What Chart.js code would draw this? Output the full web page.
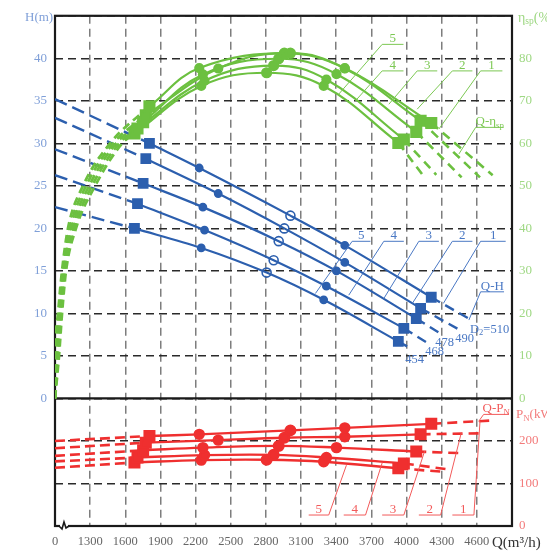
<!DOCTYPE html>
<html><head><meta charset="utf-8">
<script src="https://cdn.jsdelivr.net/npm/chart.js@4/dist/chart.umd.min.js"></script>
<style>html,body{margin:0;padding:0;background:#fff;}#wrap{width:547px;height:552px;position:relative;}canvas{display:block;}</style>
</head><body><div id="wrap"><canvas id="c" width="547" height="552"></canvas></div>
<script>
// ================= DATA =================
const curveIds  = ['1', '2', '3', '4', '5'];
const diameters = ['D_2_=510', '490', '478', '468', '454'];

// flow of the five marked points on each curve (square, dot, circle, dot, square), m3/h
const qMarks = [
  [1806, 2231, 3009, 3473, 4211],
  [1775, 2393, 2957, 3473, 4120],
  [1752, 2262, 2909, 3402, 4083],
  [1704, 2276, 2866, 3316, 3977],
  [1678, 2248, 2806, 3293, 3930]
];
// head H (m) at those points
const headMarks = [
  [30.0, 27.1, 21.5, 18.0, 11.9],
  [28.2, 24.1, 20.0, 16.0, 10.6],
  [25.3, 22.5, 18.5, 15.0, 9.4],
  [22.9, 19.8, 16.25, 13.2, 8.25],
  [20.0, 17.7, 14.8, 11.6, 6.7]
];
const headStart = [35.2, 33.0, 29.3, 26.25, 22.5];   // at the start of the (broken) Q axis
const headEndQ  = [4556, 4456, 4305, 4205, 4034];
const headEndH  = [9.2, 8.05, 7.5, 6.3, 5.9];

// efficiency ηsp (%) at the marked points
const effMarks = [
  [68.7, 77.7, 81.2, 77.7, 64.8],
  [66.6, 77.6, 81.2, 77.6, 65.3],
  [65.0, 76.2, 79.9, 76.3, 62.7],
  [63.5, 74.7, 78.3, 75.0, 60.9],
  [62.3, 73.5, 76.6, 73.5, 60.1]
];
// dashed rising part of the efficiency curves
const effRiseE = [0, 10, 20, 30, 40, 50, 60];
const effRiseQ = [
  [1000, 1004, 1026, 1060, 1111, 1239, 1470],
  [1000, 1009, 1034, 1068, 1128, 1265, 1496],
  [1000, 1017, 1043, 1077, 1145, 1291, 1521],
  [1000, 1026, 1051, 1085, 1162, 1316, 1547],
  [1000, 1034, 1060, 1094, 1179, 1342, 1573]
];
const effEndQ = [4735, 4627, 4470, 4254, 4154];
const effEndE = [52.5, 52.0, 52.0, 52.6, 52.0];

// shaft power PN (kW) at the marked points
const powMarks = [
  [211.6, 215.6, 224.9, 230.9, 240.3],
  [196.0, 202.0, 207.7, 210.0, 215.6],
  [178.0, 184.4, 188.4, 184.4, 175.1],
  [161.0, 166.7, 167.4, 161.2, 147.2],
  [149.5, 155.0, 155.8, 151.2, 135.6]
];
const powStart = [200, 183, 165, 152, 137];
const powEndQ  = [4718, 4632, 4461, 4333, 4290];
const powEndP  = [248, 218, 171.4, 134, 128];

// axis ranges / ticks
const qMin = 1000, qMax = 4900, qStep = 300;   // Q axis is broken: its first tick is labelled 0
const hMin = -15, hMax = 45, hStep = 5;        // head axis (lower part holds the power panel)
const eMin = -30, eMax = 90, eStep = 10;       // efficiency axis
const pMin = 0, pMax = 1200;                   // power axis (0..300 visible in lower panel)
const powTickLabels = {'-30': '0', '-20': '100', '-10': '200'};

// ================= STYLE =================
const FONT = "'Liberation Serif','Times New Roman',serif";
const BLUE = '#2c5fae', BLUE_T = '#7f9fd8', BLUE_L = '#4a78c4';
const GREEN = '#6cc040', GREEN_T = '#9fd884', GREEN_L = '#7cc853';
const RED = '#ef2f2f', RED_T = '#f37b7b', RED_L = '#f25a5a';

const pts = (qs, ys) => qs.map((q, j) => ({x: q, y: ys[j]}));
const datasets = [];
const markStyle = ['rect', 'circle', 'circle', 'circle', 'rect'];

for (let i = 0; i < 5; i++) {
  const q = qMarks[i], n = q.length - 1;
  // ---- efficiency (green)
  datasets.push({yAxisID: 'yE', order: 0, data: pts(q, effMarks[i]), borderColor: GREEN, borderWidth: 2.2,
    tension: 0.4, pointStyle: markStyle, pointRadius: [7, 4, 4.5, 4, 7],
    pointBackgroundColor: GREEN, pointBorderColor: GREEN});
  datasets.push({yAxisID: 'yE', order: 0, data: pts(effRiseQ[i].concat([q[0]]), effRiseE.concat([effMarks[i][0]])),
    borderColor: GREEN, borderWidth: 2.8, borderDash: [8, 5], cubicInterpolationMode: 'monotone', pointRadius: 0});
  datasets.push({yAxisID: 'yE', order: 0, data: [{x: q[n], y: effMarks[i][n]}, {x: effEndQ[i], y: effEndE[i]}],
    borderColor: GREEN, borderWidth: 2.6, borderDash: [9, 6], pointRadius: 0});
  // ---- head (blue)
  datasets.push({yAxisID: 'yH', order: 1, data: pts(q, headMarks[i]), borderColor: BLUE, borderWidth: 2.2,
    cubicInterpolationMode: 'monotone', pointStyle: markStyle, pointRadius: [6.5, 3.6, 4.5, 3.6, 6.5],
    pointBackgroundColor: [BLUE, BLUE, 'rgba(0,0,0,0)', BLUE, BLUE], pointBorderColor: BLUE, pointBorderWidth: 1.6});
  datasets.push({yAxisID: 'yH', order: 1, data: [{x: qMin, y: headStart[i]}, {x: q[0], y: headMarks[i][0]}],
    borderColor: BLUE, borderWidth: 2.4, borderDash: [13, 6], pointRadius: 0});
  datasets.push({yAxisID: 'yH', order: 1, data: [{x: q[n], y: headMarks[i][n]}, {x: headEndQ[i], y: headEndH[i]}],
    borderColor: BLUE, borderWidth: 2.4, borderDash: [10, 6], pointRadius: 0});
  // ---- power (red)
  datasets.push({yAxisID: 'yP', order: 2, data: pts(q, powMarks[i]), borderColor: RED, borderWidth: 2.4,
    tension: 0.4, pointStyle: markStyle, pointRadius: [6.8, 4.5, 4.8, 4.5, 6.8],
    pointBackgroundColor: RED, pointBorderColor: RED});
  datasets.push({yAxisID: 'yP', order: 2, data: [{x: qMin, y: powStart[i]}, {x: q[0], y: powMarks[i][0]}],
    borderColor: RED, borderWidth: 2.6, borderDash: [10, 5], pointRadius: 0});
  datasets.push({yAxisID: 'yP', order: 2, data: [{x: q[n], y: powMarks[i][n]}, {x: powEndQ[i], y: powEndP[i]}],
    borderColor: RED, borderWidth: 2.6, borderDash: [10, 6], pointRadius: 0});
}

// leader lines with labels, in (Q, H) coordinates of the chart
const leaders = [
  // efficiency labels
  {c: GREEN_L, t: '5', p: [[3421, 35.78], [3792, 41.64], [3974, 41.64]]},
  {c: GREEN_L, t: '4', p: [[3564, 35.0], [3792, 38.52], [3974, 38.52]]},
  {c: GREEN_L, t: '3', p: [[3849, 34.6], [4091, 38.52], [4262, 38.52]]},
  {c: GREEN_L, t: '2', p: [[4091, 34.02], [4391, 38.52], [4562, 38.52]]},
  {c: GREEN_L, t: '1', p: [[4276, 31.68], [4632, 38.52], [4818, 38.52]]},
  {c: GREEN_L, t: 'Q-η_sp', p: [[4447, 28.75], [4590, 31.88], [4829, 31.88]]},
  // head labels
  {c: BLUE_L, t: '5', p: [[3222, 12.34], [3536, 18.48], [3692, 18.48]]},
  {c: BLUE_L, t: '4', p: [[3507, 12.15], [3806, 18.48], [3977, 18.48]]},
  {c: BLUE_L, t: '3', p: [[3806, 11.75], [4105, 18.48], [4276, 18.48]]},
  {c: BLUE_L, t: '2', p: [[4049, 11.17], [4391, 18.48], [4562, 18.48]]},
  {c: BLUE_L, t: '1', p: [[4314, 11.17], [4632, 18.48], [4846, 18.48]]},
  {c: BLUE_L, t: 'Q-H', p: [[4532, 9.22], [4632, 12.54], [4832, 12.54]]},
  // power labels
  {c: RED_L, t: '5', p: [[3487, -7.85], [3336, -13.71], [3165, -13.71]]},
  {c: RED_L, t: '4', p: [[3792, -7.58], [3650, -13.71], [3464, -13.71]]},
  {c: RED_L, t: '3', p: [[4154, -6.21], [3977, -13.71], [3792, -13.71]]},
  {c: RED_L, t: '2', p: [[4468, -4.0], [4291, -13.71], [4105, -13.71]]},
  {c: RED_L, t: '1', p: [[4627, -2.7], [4575, -13.71], [4391, -13.71]]},
  {c: RED_L, t: 'Q-P_N', p: [[4615, -2.7], [4658, -1.875], [4872, -1.875]]}
];
const diamPos = [[4709, 8.2], [4496, 7.2], [4325, 6.68], [4239, 5.6], [4068, 4.7]];

function richText(ctx, str, x, y, align, size, color) {
  const parts = str.split('_');
  const sz = i => (i % 2 ? size * 0.68 : size);
  const widths = parts.map((p, i) => { ctx.font = sz(i) + 'px ' + FONT; return ctx.measureText(p).width; });
  const w = widths.reduce((a, b) => a + b, 0);
  let cx = align === 'center' ? x - w / 2 : (align === 'right' ? x - w : x);
  ctx.fillStyle = color; ctx.textAlign = 'left'; ctx.textBaseline = 'alphabetic';
  parts.forEach((p, i) => { ctx.font = sz(i) + 'px ' + FONT; ctx.fillText(p, cx, y + (i % 2 ? size * 0.18 : 0)); cx += widths[i]; });
}

const decor = {
  id: 'decor',
  beforeDatasetsDraw(chart) {
    const {ctx, chartArea: a, scales} = chart;
    ctx.save();
    ctx.strokeStyle = '#1a1a1a'; ctx.lineWidth = 2.2; ctx.setLineDash([]);
    ctx.strokeRect(a.left, a.top, a.right - a.left, a.bottom - a.top);
    const y0 = scales.yH.getPixelForValue(0);
    ctx.beginPath(); ctx.moveTo(a.left, y0); ctx.lineTo(a.right, y0); ctx.stroke();
    // axis break mark
    const bx = a.left + 5, by = a.bottom;
    ctx.fillStyle = '#fff'; ctx.fillRect(bx, by - 3, 8, 6);
    ctx.lineWidth = 1.6;
    ctx.beginPath(); ctx.moveTo(bx - 1, by); ctx.lineTo(bx + 2, by + 3); ctx.lineTo(bx + 4, by - 4);
    ctx.lineTo(bx + 6, by + 2); ctx.lineTo(bx + 9, by); ctx.stroke();
    ctx.restore();
  },
  afterDatasetsDraw(chart) {
    const {ctx, chartArea: a, scales} = chart;
    const X = v => scales.x.getPixelForValue(v), Y = v => scales.yH.getPixelForValue(v);
    ctx.save();
    ctx.setLineDash([]);
    leaders.forEach(l => {
      ctx.strokeStyle = l.c; ctx.lineWidth = 1;
      ctx.beginPath();
      l.p.forEach((p, k) => { const px = X(p[0]), py = Y(p[1]); if (k) ctx.lineTo(px, py); else ctx.moveTo(px, py); });
      ctx.stroke();
      const p1 = l.p[1], p2 = l.p[2];
      const cx = (X(p1[0]) + X(p2[0])) / 2, cy = Y(p1[1]) - 2;
      richText(ctx, l.t, cx, cy, 'center', 13, l.c);
    });
    diamPos.forEach((p, i) => {
      richText(ctx, diameters[i], X(p[0]), Y(p[1]) + 4.5, 'center', 12.5, BLUE_L);
    });
    // axis titles
    richText(ctx, 'H(m)', a.left - 30, a.top + 5, 'left', 13, BLUE_T);
    richText(ctx, 'η_sp_(%', a.right + 6, a.top + 6, 'left', 14, GREEN_T);
    richText(ctx, 'P_N_(kW', a.right + 4, Y(0) + 20, 'left', 13, RED_T);
    richText(ctx, 'Q(m³/h)', a.right - 20, a.bottom + 21, 'left', 15, '#333');
    ctx.restore();
  }
};

new Chart(document.getElementById('c'), {
  type: 'scatter',
  data: {datasets: datasets.map(d => Object.assign({showLine: true, fill: false, pointHoverRadius: 0}, d))},
  plugins: [decor],
  options: {
    responsive: false, animation: false, events: [],
    layout: {padding: {top: 13, left: 0, right: 0, bottom: 0}},
    plugins: {legend: {display: false}, tooltip: {enabled: false}},
    scales: {
      x: {type: 'linear', min: qMin, max: qMax,
        afterFit: s => { s.height = 26; },
        ticks: {stepSize: qStep, autoSkip: false, maxRotation: 0, padding: 8, color: '#666',
          font: {family: FONT, size: 12.5},
          callback: v => (v === qMin ? '0' : (v === qMax ? '' : String(v)))},
        grid: {color: '#7d7d7d', lineWidth: 1.5, drawTicks: false},
        border: {display: false, dash: [8, 5]}},
      yH: {type: 'linear', position: 'left', min: hMin, max: hMax,
        afterFit: s => { s.width = 55; },
        ticks: {stepSize: hStep, padding: 8, color: BLUE_T, font: {family: FONT, size: 13},
          callback: v => (v >= 0 && v <= 40 ? String(v) : '')},
        grid: {color: '#2a2a2a', lineWidth: 1.5, drawTicks: false},
        border: {display: false, dash: [8, 5]}},
      yE: {type: 'linear', position: 'right', min: eMin, max: eMax,
        afterFit: s => { s.width = 35; },
        ticks: {stepSize: eStep, padding: 7, font: {family: FONT, size: 13},
          color: c => (c.tick && c.tick.value < 0 ? RED_T : GREEN_T),
          callback: v => (v < 0 ? (powTickLabels[String(v)] || '') : (v <= 80 ? String(v) : ''))},
        grid: {display: false, drawTicks: false}, border: {display: false}},
      yP: {type: 'linear', display: false, min: pMin, max: pMax}
    }
  }
});
</script></body></html>
